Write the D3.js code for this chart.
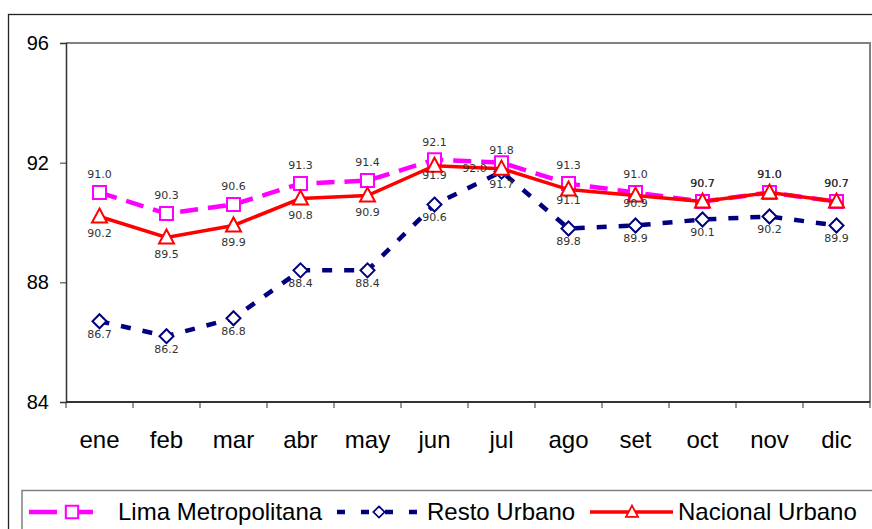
<!DOCTYPE html>
<html>
<head>
<meta charset="utf-8">
<script src="https://cdn.jsdelivr.net/npm/d3@7"></script>
<style>
  body { margin: 0; background: #fff; }
  svg { display: block; }
</style>
</head>
<body>
<div id="chart"></div>
<script>
const months = ['ene', 'feb', 'mar', 'abr', 'may', 'jun', 'jul', 'ago', 'set', 'oct', 'nov', 'dic'];
const limaMetro = [91.0, 90.3, 90.6, 91.3, 91.4, 92.1, 92.0, 91.3, 91.0, 90.7, 91.0, 90.7];
const restoUrbano = [86.7, 86.2, 86.8, 88.4, 88.4, 90.6, 91.7, 89.8, 89.9, 90.1, 90.2, 89.9];
const nacionalUrbano = [90.2, 89.5, 89.9, 90.8, 90.9, 91.9, 91.8, 91.1, 90.9, 90.7, 91.0, 90.7];
const yTicks = [84, 88, 92, 96];

const width = 872, height = 529;
const plot = {left: 66, top: 43, right: 870, bottom: 402};

const svg = d3.select('#chart').append('svg')
    .attr('width', width)
    .attr('height', height);

// outer frame
svg.append('rect')
    .attr('x', 8.5).attr('y', 14.5)
    .attr('width', 900).attr('height', 600)
    .attr('fill', 'none')
    .attr('stroke', '#222')
    .attr('stroke-width', 1.3);

const x = d3.scaleBand()
    .domain(months)
    .range([plot.left, plot.right]);

const y = d3.scaleLinear()
    .domain([84, 96])
    .range([plot.bottom, plot.top]);

// plot border (top gridline + right side)
svg.append('path')
    .attr('d', `M${plot.left},${plot.top}H${plot.right}V${plot.bottom}`)
    .attr('fill', 'none')
    .attr('stroke', '#808080')
    .attr('stroke-width', 2);

// y axis
const yAxis = svg.append('g')
    .attr('transform', `translate(${plot.left},0)`)
    .call(d3.axisLeft(y).tickValues(yTicks).tickSize(6).tickPadding(11));
yAxis.select('.domain').attr('stroke', '#333').attr('stroke-width', 1.5);
yAxis.selectAll('.tick line').attr('stroke', '#333');
yAxis.selectAll('text')
    .attr('font-family', 'Liberation Sans, Arial, sans-serif')
    .attr('font-size', 20)
    .attr('fill', '#000');

// x axis: ticks at band edges
const xAxis = svg.append('g')
    .attr('transform', `translate(0,${plot.bottom})`);
xAxis.append('line')
    .attr('x1', plot.left).attr('x2', plot.right)
    .attr('stroke', '#333').attr('stroke-width', 2);
xAxis.selectAll('.edge')
    .data(months.map(m => x(m)).concat([plot.right]))
    .enter().append('line')
    .attr('x1', d => d).attr('x2', d => d)
    .attr('y1', 0).attr('y2', 6)
    .attr('stroke', '#333');
xAxis.selectAll('.mlabel')
    .data(months)
    .enter().append('text')
    .attr('x', d => x(d) + x.bandwidth() / 2)
    .attr('y', 46)
    .attr('text-anchor', 'middle')
    .attr('font-family', 'Liberation Sans, Arial, sans-serif')
    .attr('font-size', 24)
    .text(d => d);

const cx = i => x(months[i]) + x.bandwidth() / 2;

const series = [
  {name: 'Lima Metropolitana', values: limaMetro, color: '#FF00FF', dash: '18,10', width: 4.5, marker: 'square', labelDy: -18},
  {name: 'Resto Urbano', values: restoUrbano, color: '#000080', dash: '10,12', width: 4.5, marker: 'diamond', labelDy: 13},
  {name: 'Nacional Urbano', values: nacionalUrbano, color: '#FF0000', dash: null, width: 3.5, marker: 'triangle', labelDy: 17}
];

// hand-placed label nudges where series overlap
// (oct-dic: Nacional labels sit exactly under the equal Lima labels)
const labelNudge = {
  'Lima Metropolitana-6': {dx: -27, dy: 23},
  'Nacional Urbano-5': {dx: 0, dy: -8},
  'Nacional Urbano-6': {dx: 0, dy: -36},
  'Nacional Urbano-7': {dx: 0, dy: -6},
  'Nacional Urbano-8': {dx: 0, dy: -9},
  'Nacional Urbano-9': {dx: 0, dy: -35},
  'Nacional Urbano-10': {dx: 0, dy: -35},
  'Nacional Urbano-11': {dx: 0, dy: -35}
};

function markerPath(type) {
  if (type === 'square') return 'M-6.5,-6.5H6.5V6.5H-6.5Z';
  if (type === 'diamond') return 'M0,-7L7,0L0,7L-7,0Z';
  return 'M0,-8L7.5,6H-7.5Z';
}

const line = d3.line()
    .x((d, i) => cx(i))
    .y(d => y(d));

// draw in order resto, lima, nacional
[series[1], series[0], series[2]].forEach(s => {
  svg.append('path')
      .attr('d', line(s.values))
      .attr('fill', 'none')
      .attr('stroke', s.color)
      .attr('stroke-width', s.width)
      .attr('stroke-dasharray', s.dash);
  svg.selectAll(null)
      .data(s.values)
      .enter().append('path')
      .attr('d', markerPath(s.marker))
      .attr('transform', (d, i) => `translate(${cx(i)},${y(d)})`)
      .attr('fill', '#fff')
      .attr('stroke', s.color)
      .attr('stroke-width', 2);
});

series.forEach(s => {
  svg.selectAll(null)
      .data(s.values)
      .enter().append('text')
      .attr('x', (d, i) => cx(i) + ((labelNudge[s.name + '-' + i] || {}).dx || 0))
      .attr('y', (d, i) => y(d) + s.labelDy + ((labelNudge[s.name + '-' + i] || {}).dy || 0))
      .attr('dy', '0.35em')
      .attr('text-anchor', 'middle')
      .attr('font-family', 'DejaVu Sans, sans-serif')
      .attr('font-size', 11)
      .attr('fill', '#333')
      .text(d => d.toFixed(1));
});

// legend
const legend = svg.append('g');
legend.append('rect')
    .attr('x', 22).attr('y', 490.5)
    .attr('width', 900).attr('height', 80)
    .attr('fill', '#fff')
    .attr('stroke', '#808080')
    .attr('stroke-width', 1.5);

const legendItems = [
  {s: series[0], x1: 29, x2: 101, mx: 72, tx: 118, scale: 0.95},
  {s: series[1], x1: 337, x2: 418, mx: 379, tx: 427, scale: 0.8},
  {s: series[2], x1: 590, x2: 673, mx: 632, tx: 678, scale: 0.8}
];
const ly = 512;
legendItems.forEach(it => {
  legend.append('line')
      .attr('x1', it.x1).attr('x2', it.x2)
      .attr('y1', ly).attr('y2', ly)
      .attr('stroke', it.s.color)
      .attr('stroke-width', it.s.width)
      .attr('stroke-dasharray', it.s.marker === 'square' ? '28,8' : it.s.dash ? '8,16' : null);
  legend.append('path')
      .attr('d', markerPath(it.s.marker))
      .attr('transform', `translate(${it.mx},${ly}) scale(${it.scale})`)
      .attr('fill', '#fff')
      .attr('stroke', it.s.color)
      .attr('stroke-width', 2.2);
  legend.append('text')
      .attr('x', it.tx).attr('y', ly)
      .attr('dy', '0.35em')
      .attr('font-family', 'Liberation Sans, Arial, sans-serif')
      .attr('font-size', 24)
      .text(it.s.name);
});
</script>
</body>
</html>
